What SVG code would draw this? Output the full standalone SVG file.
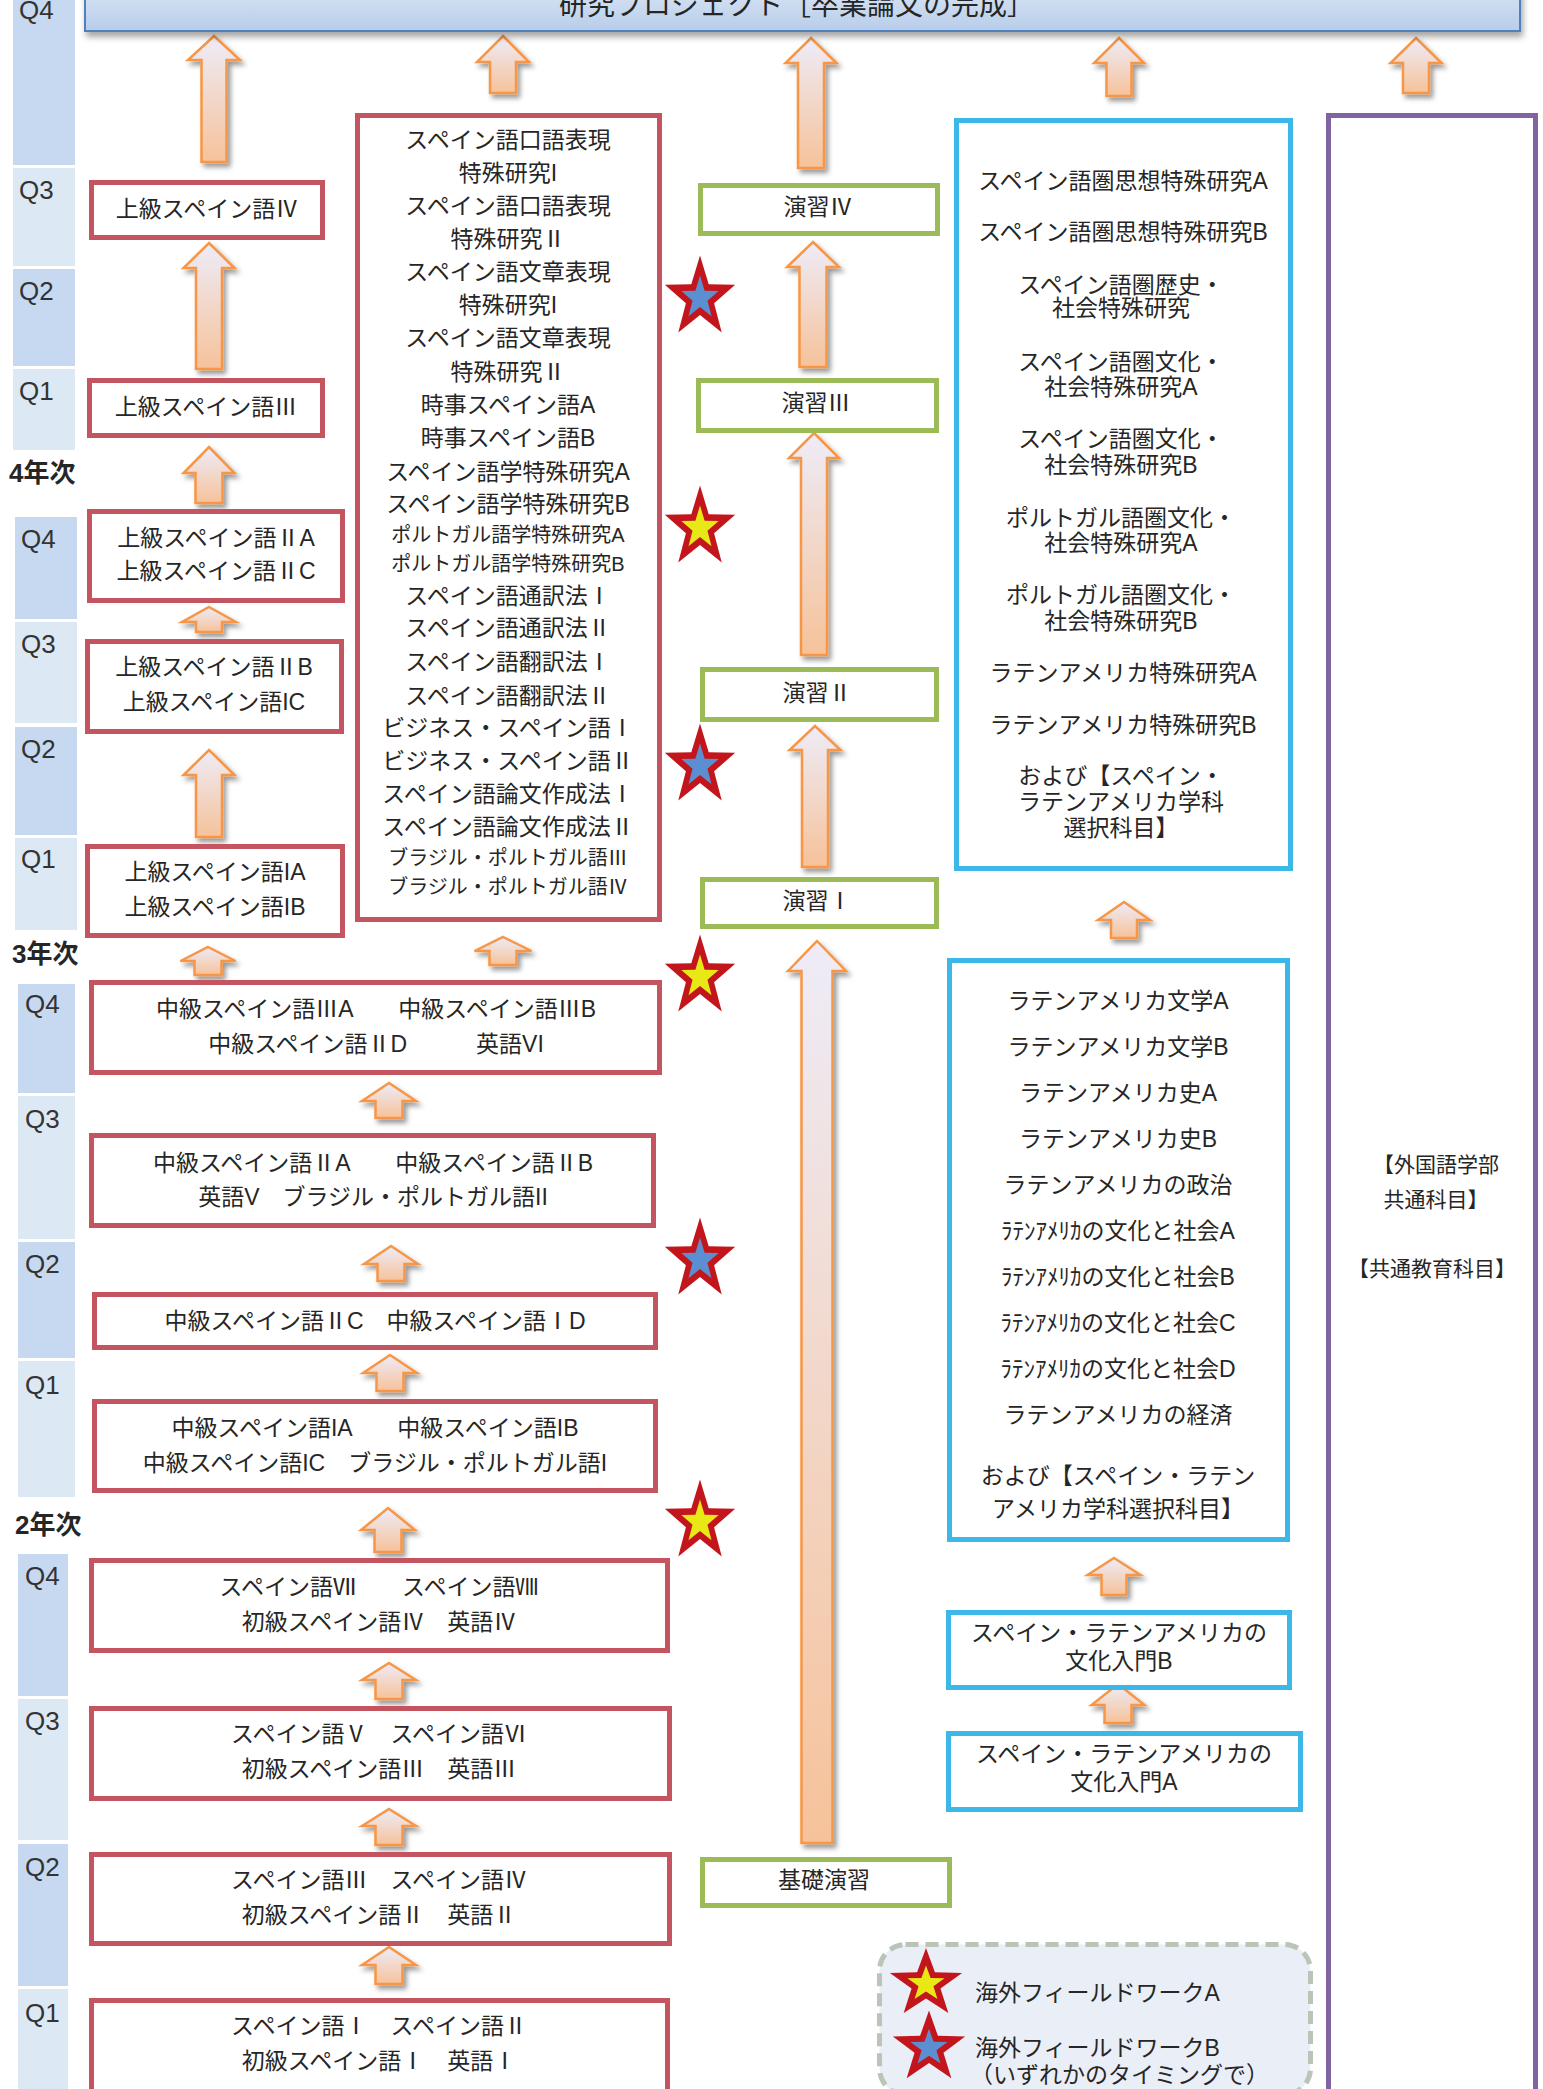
<svg xmlns="http://www.w3.org/2000/svg" xmlns:xlink="http://www.w3.org/1999/xlink" width="1543" height="2089" viewBox="0 0 1543 2089">
<defs>
  <linearGradient id="gArrow" x1="0" y1="0" x2="0" y2="1">
    <stop offset="0" stop-color="#eeecf8"/>
    <stop offset="1" stop-color="#f6c29a"/>
  </linearGradient>
  <linearGradient id="gTitle" x1="0" y1="0" x2="0" y2="1">
    <stop offset="0" stop-color="#dde8f5"/>
    <stop offset="1" stop-color="#b8cdea"/>
  </linearGradient>
  <filter id="shadow" x="-40%" y="-20%" width="180%" height="150%">
    <feDropShadow dx="3" dy="4" stdDeviation="2.5" flood-color="#000" flood-opacity="0.4"/>
  </filter>
  <filter id="tshadow" x="-5%" y="-50%" width="110%" height="200%">
    <feDropShadow dx="2" dy="5" stdDeviation="3" flood-color="#000" flood-opacity="0.35"/>
  </filter>
  <polygon id="star" points="0,-1 0.2351,-0.3236 0.9511,-0.309 0.3804,0.1236 0.5878,0.809 0,0.4 -0.5878,0.809 -0.3804,0.1236 -0.9511,-0.309 -0.2351,-0.3236"/>
</defs>
<style>
  text { font-family: "Liberation Sans", "Noto Sans CJK JP", sans-serif; fill: #262626; }
  .c { font-size: 23px; text-anchor: middle; dominant-baseline: central; }
  .sm { font-size: 20px; }
  .l { font-size: 23px; dominant-baseline: central; }
  .q { font-size: 26px; fill: #333; }
  .yr { font-size: 26px; font-weight: bold; dominant-baseline: central; }
  .qd { fill: #c6d9f1; }
  .ql { fill: #dde8f5; }
  .red { fill: #fff; stroke: #c4545f; stroke-width: 5; }
  .grn { fill: #fff; stroke: #9bbb59; stroke-width: 5; }
  .cyn { fill: #fff; stroke: #3bb8e8; stroke-width: 5; }
  .pur { fill: #fff; stroke: #8064a2; stroke-width: 5; }
  .arr { fill: url(#gArrow); stroke: #f79646; stroke-width: 2.5; stroke-linejoin: miter; filter: url(#shadow); }
  .so { fill: #c3161c; }
  .sy { fill: #e8e817; }
  .sb { fill: #5b8fd2; }
</style>

<g id="quarters">
  <rect class="qd" x="13" y="-5" width="62" height="170"/>
  <rect class="ql" x="13" y="168" width="62" height="98"/>
  <rect class="qd" x="13" y="269" width="62" height="97"/>
  <rect class="ql" x="13" y="369" width="62" height="81"/>
  <text class="q" x="19" y="19">Q4</text>
  <text class="q" x="19" y="199">Q3</text>
  <text class="q" x="19" y="300">Q2</text>
  <text class="q" x="19" y="400">Q1</text>
  <text class="yr" x="9" y="473">4年次</text>

  <rect class="qd" x="15" y="517" width="62" height="102"/>
  <rect class="ql" x="15" y="622" width="62" height="101"/>
  <rect class="qd" x="15" y="727" width="62" height="108"/>
  <rect class="ql" x="15" y="838" width="62" height="92"/>
  <text class="q" x="21" y="548">Q4</text>
  <text class="q" x="21" y="653">Q3</text>
  <text class="q" x="21" y="758">Q2</text>
  <text class="q" x="21" y="868">Q1</text>
  <text class="yr" x="12" y="954">3年次</text>

  <rect class="qd" x="18" y="984" width="57" height="109"/>
  <rect class="ql" x="18" y="1096" width="57" height="143"/>
  <rect class="qd" x="18" y="1242" width="57" height="116"/>
  <rect class="ql" x="18" y="1361" width="57" height="136"/>
  <text class="q" x="25" y="1013">Q4</text>
  <text class="q" x="25" y="1128">Q3</text>
  <text class="q" x="25" y="1273">Q2</text>
  <text class="q" x="25" y="1394">Q1</text>
  <text class="yr" x="15" y="1525">2年次</text>

  <rect class="qd" x="18" y="1554" width="50" height="142"/>
  <rect class="ql" x="18" y="1699" width="50" height="141"/>
  <rect class="qd" x="18" y="1844" width="50" height="142"/>
  <rect class="ql" x="18" y="1989" width="50" height="110"/>
  <text class="q" x="25" y="1585">Q4</text>
  <text class="q" x="25" y="1730">Q3</text>
  <text class="q" x="25" y="1876">Q2</text>
  <text class="q" x="25" y="2022">Q1</text>
</g>

<g id="connectors">
  <path class="arr" d="M214,36 L240,60 L226.5,60 L226.5,162 L201.5,162 L201.5,60 L188,60 Z"/>
  <path class="arr" d="M503,36 L529,62 L516,62 L516,93 L490,93 L490,62 L477,62 Z"/>
  <path class="arr" d="M811,38 L836.5,63 L824,63 L824,168 L798,168 L798,63 L785.5,63 Z"/>
  <path class="arr" d="M1119,38 L1144,63 L1131.5,63 L1131.5,96 L1106.5,96 L1106.5,63 L1094,63 Z"/>
  <path class="arr" d="M1416,38 L1441.5,63 L1429,63 L1429,93 L1403,93 L1403,63 L1390.5,63 Z"/>
  <path class="arr" d="M209,243 L234.5,268 L222,268 L222,369 L196,369 L196,268 L183.5,268 Z"/>
  <path class="arr" d="M209,447 L234.5,473 L222.5,473 L222.5,503 L195.5,503 L195.5,473 L183.5,473 Z"/>
  <path class="arr" d="M209,607 L236,622 L222,622 L222,632 L196,632 L196,622 L182,622 Z"/>
  <path class="arr" d="M209,750 L234.5,775 L222,775 L222,837 L196,837 L196,775 L183.5,775 Z"/>
  <path class="arr" d="M208,947 L235.5,961 L221.5,961 L221.5,975 L194.5,975 L194.5,961 L180.5,961 Z"/>
  <path class="arr" d="M503,937 L531.5,951 L516.5,951 L516.5,965 L489.5,965 L489.5,951 L474.5,951 Z"/>
  <path class="arr" d="M813,242 L839,267 L826.5,267 L826.5,367 L799.5,367 L799.5,267 L787,267 Z"/>
  <path class="arr" d="M814,433 L839,458 L827,458 L827,655 L801,655 L801,458 L789,458 Z"/>
  <path class="arr" d="M815,726 L840.5,750 L828,750 L828,867 L802,867 L802,750 L789.5,750 Z"/>
  <path class="arr" d="M817,941 L846,971 L832.5,971 L832.5,1843 L801.5,1843 L801.5,971 L788,971 Z"/>
  <path class="arr" d="M1124,902 L1150,920 L1137,920 L1137,938 L1111,938 L1111,920 L1098,920 Z"/>
  <path class="arr" d="M389,1083 L416,1101 L402.5,1101 L402.5,1118 L375.5,1118 L375.5,1101 L362,1101 Z"/>
  <path class="arr" d="M391,1246 L418,1264 L404.5,1264 L404.5,1281 L377.5,1281 L377.5,1264 L364,1264 Z"/>
  <path class="arr" d="M390,1355 L417,1373 L403.5,1373 L403.5,1391 L376.5,1391 L376.5,1373 L363,1373 Z"/>
  <path class="arr" d="M388,1508 L415,1530 L401.5,1530 L401.5,1552 L374.5,1552 L374.5,1530 L361,1530 Z"/>
  <path class="arr" d="M389,1663 L416,1680 L402.5,1680 L402.5,1699 L375.5,1699 L375.5,1680 L362,1680 Z"/>
  <path class="arr" d="M389,1809 L416,1826 L402.5,1826 L402.5,1845 L375.5,1845 L375.5,1826 L362,1826 Z"/>
  <path class="arr" d="M389,1947 L416,1965 L402.5,1965 L402.5,1984 L375.5,1984 L375.5,1965 L362,1965 Z"/>
  <path class="arr" d="M1114,1558 L1140.5,1575 L1126.5,1575 L1126.5,1595 L1101.5,1595 L1101.5,1575 L1087.5,1575 Z"/>
  <path class="arr" d="M1118,1684 L1144.5,1705 L1131.5,1705 L1131.5,1723 L1104.5,1723 L1104.5,1705 L1091.5,1705 Z"/>
</g>

<g id="title">
  <rect x="85" y="-20" width="1435" height="51" fill="url(#gTitle)" stroke="#4f81bd" stroke-width="2" filter="url(#tshadow)"/>
  <text class="c" x="797" y="5" style="font-size:28px">研究プロジェクト［卒業論文の完成］</text>
</g>

<g id="n-joukyu4">
  <rect class="red" x="91.5" y="182.5" width="231" height="55"/>
  <text class="c" x="207" y="209">上級スペイン語Ⅳ</text>
</g>
<g id="n-joukyu3">
  <rect class="red" x="89.5" y="380.5" width="233" height="55"/>
  <text class="c" x="206" y="407">上級スペイン語Ⅲ</text>
</g>
<g id="n-joukyu2a">
  <rect class="red" x="89.5" y="511.5" width="253" height="89"/>
  <text class="c" x="216" y="538">上級スペイン語ⅡA</text>
  <text class="c" x="216" y="571">上級スペイン語ⅡC</text>
</g>
<g id="n-joukyu2b">
  <rect class="red" x="87.5" y="641.5" width="254" height="90"/>
  <text class="c" x="214" y="667">上級スペイン語ⅡB</text>
  <text class="c" x="214" y="702">上級スペイン語IC</text>
</g>
<g id="n-joukyu1">
  <rect class="red" x="87.5" y="846.5" width="255" height="89"/>
  <text class="c" x="215" y="872">上級スペイン語IA</text>
  <text class="c" x="215" y="907">上級スペイン語IB</text>
</g>

<g id="n-senmon">
  <rect class="red" x="357.5" y="115.5" width="302" height="804"/>
  <text class="c" x="508" y="140">スペイン語口語表現</text>
  <text class="c" x="508" y="173">特殊研究I</text>
  <text class="c" x="508" y="206">スペイン語口語表現</text>
  <text class="c" x="508" y="239">特殊研究Ⅱ</text>
  <text class="c" x="508" y="272">スペイン語文章表現</text>
  <text class="c" x="508" y="305">特殊研究I</text>
  <text class="c" x="508" y="338">スペイン語文章表現</text>
  <text class="c" x="508" y="372">特殊研究Ⅱ</text>
  <text class="c" x="508" y="405">時事スペイン語A</text>
  <text class="c" x="508" y="438">時事スペイン語B</text>
  <text class="c" x="508" y="472">スペイン語学特殊研究A</text>
  <text class="c" x="508" y="504">スペイン語学特殊研究B</text>
  <text class="c sm" x="508" y="535">ポルトガル語学特殊研究A</text>
  <text class="c sm" x="508" y="564">ポルトガル語学特殊研究B</text>
  <text class="c" x="508" y="596">スペイン語通訳法Ⅰ</text>
  <text class="c" x="508" y="628">スペイン語通訳法Ⅱ</text>
  <text class="c" x="508" y="662">スペイン語翻訳法Ⅰ</text>
  <text class="c" x="508" y="696">スペイン語翻訳法Ⅱ</text>
  <text class="c" x="508" y="728">ビジネス・スペイン語Ⅰ</text>
  <text class="c" x="508" y="761">ビジネス・スペイン語Ⅱ</text>
  <text class="c" x="508" y="794">スペイン語論文作成法Ⅰ</text>
  <text class="c" x="508" y="827">スペイン語論文作成法Ⅱ</text>
  <text class="c sm" x="508" y="858">ブラジル・ポルトガル語Ⅲ</text>
  <text class="c sm" x="508" y="887">ブラジル・ポルトガル語Ⅳ</text>
</g>

<g id="n-chukyu3">
  <rect class="red" x="91.5" y="982.5" width="568" height="90"/>
  <text class="c" x="376" y="1009">中級スペイン語ⅢA　　中級スペイン語ⅢB</text>
  <text class="c" x="376" y="1044">中級スペイン語ⅡD　　　英語VI</text>
</g>
<g id="n-chukyu2a">
  <rect class="red" x="91.5" y="1135.5" width="562" height="90"/>
  <text class="c" x="373" y="1163">中級スペイン語ⅡA　　中級スペイン語ⅡB</text>
  <text class="c" x="373" y="1197">英語V　ブラジル・ポルトガル語II</text>
</g>
<g id="n-chukyu2c">
  <rect class="red" x="94.5" y="1294.5" width="561" height="53"/>
  <text class="c" x="375" y="1321">中級スペイン語ⅡC　中級スペイン語ⅠD</text>
</g>
<g id="n-chukyu1">
  <rect class="red" x="94.5" y="1401.5" width="561" height="89"/>
  <text class="c" x="375" y="1428">中級スペイン語IA　　中級スペイン語IB</text>
  <text class="c" x="375" y="1463">中級スペイン語IC　ブラジル・ポルトガル語I</text>
</g>

<g id="n-spanish7">
  <rect class="red" x="91.5" y="1560.5" width="576" height="90"/>
  <text class="c" x="379" y="1587">スペイン語Ⅶ　　スペイン語Ⅷ</text>
  <text class="c" x="379" y="1622">初級スペイン語Ⅳ　英語Ⅳ</text>
</g>
<g id="n-spanish5">
  <rect class="red" x="91.5" y="1708.5" width="578" height="90"/>
  <text class="c" x="379" y="1734">スペイン語Ⅴ　スペイン語Ⅵ</text>
  <text class="c" x="379" y="1769">初級スペイン語Ⅲ　英語Ⅲ</text>
</g>
<g id="n-spanish3">
  <rect class="red" x="91.5" y="1854.5" width="578" height="89"/>
  <text class="c" x="379" y="1880">スペイン語Ⅲ　スペイン語Ⅳ</text>
  <text class="c" x="379" y="1915">初級スペイン語Ⅱ　英語Ⅱ</text>
</g>
<g id="n-spanish1">
  <rect class="red" x="91.5" y="2000.5" width="576" height="100"/>
  <text class="c" x="379" y="2026">スペイン語Ⅰ　スペイン語Ⅱ</text>
  <text class="c" x="379" y="2061">初級スペイン語Ⅰ　英語Ⅰ</text>
</g>

<g id="n-enshu4">
  <rect class="grn" x="700.5" y="185.5" width="237" height="48"/>
  <text class="c" x="818" y="207">演習Ⅳ</text>
</g>
<g id="n-enshu3">
  <rect class="grn" x="698.5" y="380.5" width="238" height="50"/>
  <text class="c" x="816" y="403">演習Ⅲ</text>
</g>
<g id="n-enshu2">
  <rect class="grn" x="702.5" y="669.5" width="234" height="50"/>
  <text class="c" x="817" y="693">演習Ⅱ</text>
</g>
<g id="n-enshu1">
  <rect class="grn" x="702.5" y="879.5" width="234" height="47"/>
  <text class="c" x="817" y="901">演習Ⅰ</text>
</g>
<g id="n-kiso">
  <rect class="grn" x="702.5" y="1859.5" width="247" height="46"/>
  <text class="c" x="824" y="1880">基礎演習</text>
</g>

<g id="n-gakka-upper">
  <rect class="cyn" x="956.5" y="120.5" width="334" height="748"/>
  <text class="c" x="1123" y="181">スペイン語圏思想特殊研究A</text>
  <text class="c" x="1123" y="232">スペイン語圏思想特殊研究B</text>
  <text class="c" x="1121" y="285">スペイン語圏歴史・</text>
  <text class="c" x="1121" y="308">社会特殊研究</text>
  <text class="c" x="1121" y="362">スペイン語圏文化・</text>
  <text class="c" x="1121" y="387">社会特殊研究A</text>
  <text class="c" x="1121" y="439">スペイン語圏文化・</text>
  <text class="c" x="1121" y="465">社会特殊研究B</text>
  <text class="c" x="1121" y="518">ポルトガル語圏文化・</text>
  <text class="c" x="1121" y="543">社会特殊研究A</text>
  <text class="c" x="1121" y="595">ポルトガル語圏文化・</text>
  <text class="c" x="1121" y="621">社会特殊研究B</text>
  <text class="c" x="1123" y="673">ラテンアメリカ特殊研究A</text>
  <text class="c" x="1123" y="725">ラテンアメリカ特殊研究B</text>
  <text class="c" x="1121" y="776">および【スペイン・</text>
  <text class="c" x="1121" y="802">ラテンアメリカ学科</text>
  <text class="c" x="1121" y="828">選択科目】</text>
</g>

<g id="n-gakka-lower">
  <rect class="cyn" x="949.5" y="960.5" width="338" height="579"/>
  <text class="c" x="1118" y="1001">ラテンアメリカ文学A</text>
  <text class="c" x="1118" y="1047">ラテンアメリカ文学B</text>
  <text class="c" x="1118" y="1093">ラテンアメリカ史A</text>
  <text class="c" x="1118" y="1139">ラテンアメリカ史B</text>
  <text class="c" x="1118" y="1185">ラテンアメリカの政治</text>
  <text class="c" x="1118" y="1231">ﾗﾃﾝｱﾒﾘｶの文化と社会A</text>
  <text class="c" x="1118" y="1277">ﾗﾃﾝｱﾒﾘｶの文化と社会B</text>
  <text class="c" x="1118" y="1323">ﾗﾃﾝｱﾒﾘｶの文化と社会C</text>
  <text class="c" x="1118" y="1369">ﾗﾃﾝｱﾒﾘｶの文化と社会D</text>
  <text class="c" x="1118" y="1415">ラテンアメリカの経済</text>
  <text class="c" x="1118" y="1476">および【スペイン・ラテン</text>
  <text class="c" x="1118" y="1509">アメリカ学科選択科目】</text>
</g>

<g id="n-nyumon-b">
  <rect class="cyn" x="948.5" y="1612.5" width="341" height="75"/>
  <text class="c" x="1119" y="1633">スペイン・ラテンアメリカの</text>
  <text class="c" x="1119" y="1661">文化入門B</text>
</g>
<g id="n-nyumon-a">
  <rect class="cyn" x="948.5" y="1733.5" width="352" height="76"/>
  <text class="c" x="1124" y="1754">スペイン・ラテンアメリカの</text>
  <text class="c" x="1124" y="1782">文化入門A</text>
</g>

<g id="n-kyotsu">
  <rect class="pur" x="1328.5" y="115.5" width="207" height="2000"/>
  <text class="c" x="1436" y="1164" style="font-size:21px">【外国語学部</text>
  <text class="c" x="1436" y="1199" style="font-size:21px">共通科目】</text>
  <text class="c" x="1432" y="1268" style="font-size:21px">【共通教育科目】</text>
</g>

<g id="stars">
  <use xlink:href="#star" class="so" transform="translate(700,298) scale(37,42.5)"/>
  <use xlink:href="#star" class="sb" transform="translate(700,298) scale(19.6,22.5)"/>
  <use xlink:href="#star" class="so" transform="translate(700,528) scale(37,42.5)"/>
  <use xlink:href="#star" class="sy" transform="translate(700,528) scale(19.6,22.5)"/>
  <use xlink:href="#star" class="so" transform="translate(700,766) scale(37,42.5)"/>
  <use xlink:href="#star" class="sb" transform="translate(700,766) scale(19.6,22.5)"/>
  <use xlink:href="#star" class="so" transform="translate(700,977) scale(37,42.5)"/>
  <use xlink:href="#star" class="sy" transform="translate(700,977) scale(19.6,22.5)"/>
  <use xlink:href="#star" class="so" transform="translate(700,1260) scale(37,42.5)"/>
  <use xlink:href="#star" class="sb" transform="translate(700,1260) scale(19.6,22.5)"/>
  <use xlink:href="#star" class="so" transform="translate(700,1522) scale(37,42.5)"/>
  <use xlink:href="#star" class="sy" transform="translate(700,1522) scale(19.6,22.5)"/>
</g>

<g id="legend">
  <rect x="879.5" y="1944.5" width="431" height="150" rx="26" ry="26" fill="#eaeef6" stroke="#bac5b7" stroke-width="5" stroke-dasharray="13 7"/>
  <use xlink:href="#star" class="so" transform="translate(926,1984) scale(38,36)"/>
  <use xlink:href="#star" class="sy" transform="translate(926,1984) scale(19.5,18.5)"/>
  <use xlink:href="#star" class="so" transform="translate(929,2048) scale(38,37.5)"/>
  <use xlink:href="#star" class="sb" transform="translate(929,2048) scale(19.5,19.2)"/>
  <text class="l" x="975" y="1993">海外フィールドワークA</text>
  <text class="l" x="975" y="2048">海外フィールドワークB</text>
  <text class="l" x="970" y="2075">（いずれかのタイミングで）</text>
</g>
</svg>
